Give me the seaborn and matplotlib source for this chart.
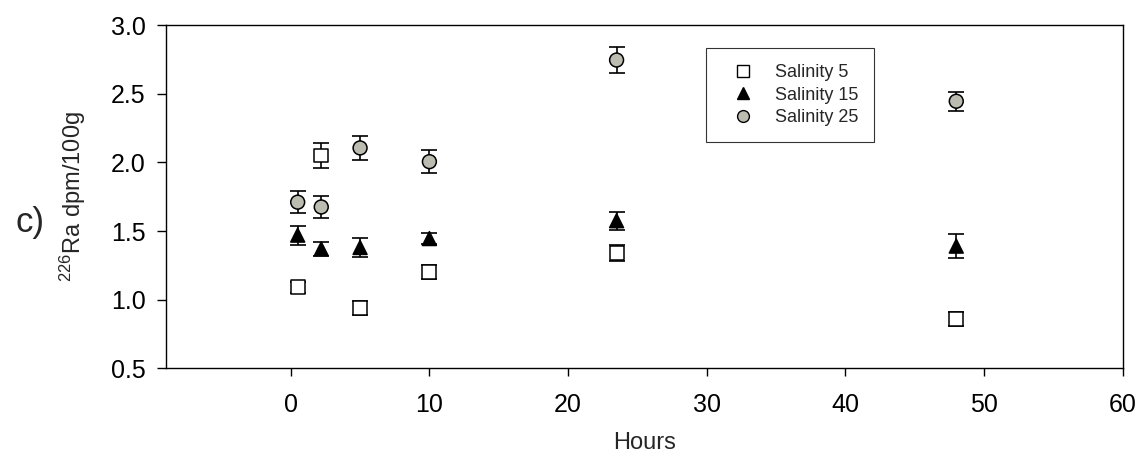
import numpy as np
import pandas as pd
import matplotlib
matplotlib.use("Agg")
import matplotlib.pyplot as plt
from matplotlib.lines import Line2D
import seaborn as sns

# values
hours = [0.5, 2.2, 5, 10, 23.5, 48]
sal5 = [1.09, 2.05, 0.94, 1.20, 1.34, 0.86]
sal5_err = [0.04, 0.09, 0.05, 0.05, 0.06, 0.05]
sal15 = [1.47, 1.37, 1.38, 1.445, 1.575, 1.39]
sal15_err = [0.07, 0.05, 0.07, 0.04, 0.065, 0.085]
sal25 = [1.71, 1.675, 2.105, 2.005, 2.745, 2.445]
sal25_err = [0.08, 0.08, 0.09, 0.085, 0.095, 0.07]

series = ['Salinity 5', 'Salinity 15', 'Salinity 25']
markers = {'Salinity 5': 's', 'Salinity 15': '^', 'Salinity 25': 'o'}
colors = {'Salinity 5': 'white', 'Salinity 15': 'black', 'Salinity 25': '#bcbcb0'}

df = pd.DataFrame({
    'Hours': hours * 3,
    'Ra': sal5 + sal15 + sal25,
    'err': sal5_err + sal15_err + sal25_err,
    'Series': [s for s in series for _ in hours],
})

sns.set_style('ticks')
plt.rcParams['font.family'] = ['Liberation Sans', 'DejaVu Sans']
plt.rcParams['mathtext.fontset'] = 'custom'
plt.rcParams['mathtext.rm'] = 'Liberation Sans'
plt.rcParams['mathtext.default'] = 'regular'

fig, ax = plt.subplots(figsize=(11.43, 4.55), dpi=100)
fig.subplots_adjust(left=0.1452, right=0.9822, top=0.945, bottom=0.1905)

# error bars first, markers on top
for s in series:
    d = df[df['Series'] == s]
    ax.errorbar(d['Hours'], d['Ra'], yerr=d['err'], fmt='none', ecolor='black',
                elinewidth=1.2, capsize=6, capthick=1.2, zorder=2)

sns.scatterplot(data=df, x='Hours', y='Ra', hue='Series', style='Series',
                markers=markers, palette=colors, s=100, edgecolor='black',
                linewidth=1.1, legend=False, zorder=3, ax=ax)

ax.set_xlim(-9, 60)
ax.set_ylim(0.5, 3.0)
ax.set_xticks([0, 10, 20, 30, 40, 50, 60])
ax.set_yticks([0.5, 1.0, 1.5, 2.0, 2.5, 3.0])
ax.set_yticklabels(['0.5', '1.0', '1.5', '2.0', '2.5', '3.0'])

for sp in ax.spines.values():
    sp.set_visible(True)
    sp.set_color('black')
    sp.set_linewidth(1.0)

ax.tick_params(axis='x', direction='out', length=6, width=1, pad=12, labelsize=18, colors='black')
ax.tick_params(axis='y', direction='out', length=6.5, width=1, pad=8, labelsize=18, colors='black')

ax.set_xlabel('Hours', fontsize=17)
ax.xaxis.set_label_coords(0.5, -0.185)
ax.set_ylabel(r'$^{226}$Ra dpm/100g', fontsize=17)
ax.yaxis.set_label_coords(-0.082, 0.5)

fig.text(0.026, 0.51, 'c)', fontsize=25, ha='center', va='center')

handles = [Line2D([], [], linestyle='none', marker=markers[s], markersize=8.5,
                  markerfacecolor=colors[s], markeredgecolor='black', markeredgewidth=1.0)
           for s in series]
leg = ax.legend(handles, series, loc='upper left', bbox_to_anchor=(0.5645, 0.933),
                borderaxespad=0, fontsize=13, frameon=True, fancybox=False,
                borderpad=0.9, labelspacing=0.3, handlelength=2.3, handletextpad=0.6)
leg.get_frame().set_edgecolor('black')
leg.get_frame().set_linewidth(0.8)

plt.savefig('out.png', dpi=100)
